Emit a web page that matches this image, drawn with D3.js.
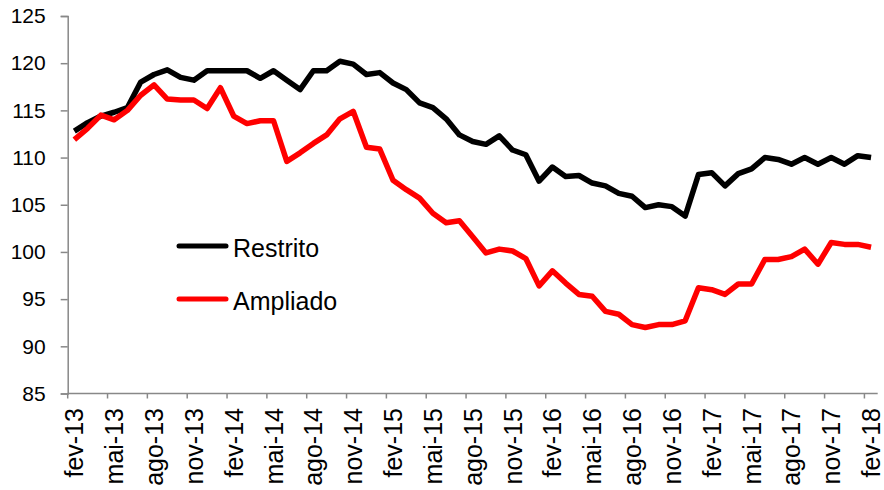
<!DOCTYPE html>
<html>
<head>
<meta charset="utf-8">
<script src="https://cdn.jsdelivr.net/npm/d3@7"></script>
<style>
  body { margin: 0; background: #fff; }
  text { font-family: "Liberation Sans", Arial, sans-serif; fill: #000; }
</style>
</head>
<body>
<script>
(function(){

  //pseudo-global variables
  var monthNames = ["fev", "mar", "abr", "mai", "jun", "jul", "ago", "set", "out", "nov", "dez", "jan"]; //month labels, starting in fev
  var startYear = 13; //first year of the series (fev-13)
  var yTicks = [85, 90, 95, 100, 105, 110, 115, 120, 125]; //y axis tick labels

  //Restrito index, fev-13 to fev-18
  var restrito = [112.8, 113.7, 114.4, 114.8, 115.3, 118.0, 118.8, 119.3, 118.5, 118.2,
                  119.2, 119.2, 119.2, 119.2, 118.4, 119.2, 118.2, 117.2, 119.2, 119.2,
                  120.2, 119.9, 118.8, 119.0, 117.9, 117.2, 115.8, 115.3, 114.1, 112.4,
                  111.7, 111.4, 112.3, 110.8, 110.3, 107.5, 109.0, 108.0, 108.1, 107.3,
                  107.0, 106.2, 105.9, 104.7, 105.0, 104.8, 103.8, 108.2, 108.4, 107.0,
                  108.3, 108.8, 110.0, 109.8, 109.3, 110.0, 109.3, 110.0, 109.3, 110.2, 110.0];

  //Ampliado index, fev-13 to fev-18
  var ampliado = [111.9, 113.1, 114.5, 114.0, 115.0, 116.6, 117.7, 116.2, 116.1, 116.1,
                  115.2, 117.4, 114.4, 113.6, 113.9, 113.9, 109.6, 110.5, 111.5, 112.4,
                  114.1, 114.9, 111.1, 110.9, 107.6, 106.6, 105.7, 104.1, 103.1, 103.3,
                  101.6, 99.9, 100.3, 100.1, 99.3, 96.4, 98.0, 96.7, 95.5, 95.3,
                  93.7, 93.4, 92.3, 92.0, 92.3, 92.3, 92.7, 96.2, 96.0, 95.5,
                  96.6, 96.6, 99.2, 99.2, 99.5, 100.3, 98.7, 101.0, 100.8, 100.8, 100.5];

  var seriesNames = ["Restrito", "Ampliado"];
  var seriesColors = ["#000000", "#ff0000"];

  //build the category labels (fev-13 ... fev-18)
  var categories = [];
  for (var i=0; i<restrito.length; i++){
    var year = startYear + Math.floor((i + 1) / 12); //year turns over at jan
    categories.push(monthNames[i % 12] + "-" + year);
  };

  window.onload = setChart(); //begin script when window loads

  function setChart(){
    var width = 884,
        height = 490,
        left = 67.7,
        right = 877.7,
        top = 16,
        bottom = 393.5;

    var svg = d3.select("body") //svg container
      .append("svg")
      .attr("width", width)
      .attr("height", height);

    var x = d3.scalePoint() //category positions, centred in each slot
      .domain(categories)
      .range([left, right])
      .padding(0.5);

    var y = d3.scaleLinear()
      .domain([85, 125])
      .range([bottom, top]);

    //y axis
    var yAxis = d3.axisLeft(y)
      .tickValues(yTicks)
      .tickSize(7)
      .tickPadding(15)
      .tickFormat(d3.format("d"));

    var yAxisG = svg.append("g")
      .attr("transform", "translate(" + left + ",0)")
      .call(yAxis);
    yAxisG.selectAll("path, line").attr("stroke", "#888").attr("stroke-width", 1.5);
    yAxisG.selectAll("text")
      .style("font-size", "21px")
      .style("font-family", "'Liberation Sans', Arial, sans-serif")
      .attr("fill", "#000");

    //x axis line
    svg.append("line")
      .attr("x1", left)
      .attr("x2", right)
      .attr("y1", bottom)
      .attr("y2", bottom)
      .attr("stroke", "#888")
      .attr("stroke-width", 1.5);

    var shown = categories.filter(function(d, i){ return i % 3 == 0; }); //every 3rd month
    var half = x.step() / 2;

    //tick marks on the slot boundaries
    svg.selectAll(".xtick")
      .data(shown)
      .enter()
      .append("line")
      .attr("class", "xtick")
      .attr("x1", function(d){ return x(d) - half; })
      .attr("x2", function(d){ return x(d) - half; })
      .attr("y1", bottom)
      .attr("y2", bottom + 5)
      .attr("stroke", "#888")
      .attr("stroke-width", 1.5);

    //rotated month labels
    svg.selectAll(".xlabel")
      .data(shown)
      .enter()
      .append("text")
      .attr("class", "xlabel")
      .attr("transform", function(d){ return "translate(" + x(d) + ",408) rotate(-90)"; })
      .attr("text-anchor", "end")
      .attr("dy", "0.36em")
      .style("font-size", "25px")
      .text(function(d){ return d; });

    //series lines
    var line = d3.line()
      .x(function(d, i){ return x(categories[i]); })
      .y(function(d){ return y(d); });

    [restrito, ampliado].forEach(function(series, s){
      svg.append("path")
        .datum(series)
        .attr("d", line)
        .attr("fill", "none")
        .attr("stroke", seriesColors[s])
        .attr("stroke-width", 5.5)
        .attr("stroke-linejoin", "round");
    });

    //legend
    var legendY = [246, 299];
    seriesNames.forEach(function(name, s){
      svg.append("line")
        .attr("x1", 179)
        .attr("x2", 226)
        .attr("y1", legendY[s])
        .attr("y2", legendY[s])
        .attr("stroke", seriesColors[s])
        .attr("stroke-width", 5)
        .attr("stroke-linecap", "round");

      svg.append("text")
        .attr("x", 233)
        .attr("y", legendY[s] + 11)
        .style("font-size", "25px")
        .text(name);
    });
  };
})();
</script>
</body>
</html>
